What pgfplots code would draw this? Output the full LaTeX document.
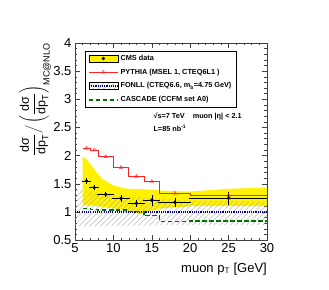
\documentclass[border=0pt]{standalone}
\usepackage{fontspec}
\setmainfont{Liberation Sans}
\usepackage{pgfplots}
\pgfplotsset{compat=1.18}
\usetikzlibrary{patterns.meta}
\definecolor{fonllblue}{RGB}{0,0,140}
\definecolor{cascgreen}{RGB}{0,115,0}
\definecolor{hatchgray}{RGB}{165,165,165}
\definecolor{pyred}{RGB}{255,35,35}
\begin{document}
\begin{tikzpicture}
\useasboundingbox (-75pt,-49pt) rectangle (254pt,240pt);
\begin{axis}[
  at={(0pt,0pt)}, anchor=south west,
  scale only axis, width=192pt, height=197pt,
  xmin=5, xmax=30, ymin=0.5, ymax=4,
  xtick={5,10,...,30}, ytick={0.5,1,...,4},
  minor x tick num=4, minor y tick num=4,
  tick align=inside, major tick length=5pt, minor tick length=2.5pt,
  axis line style={black!75, line width=0.5pt},
  every tick/.style={black!75, line width=0.4pt},
  tick label style={font=\fontsize{13}{15}\selectfont},
  /pgf/number format/assume math mode=true,
  legend style={at={(axis cs:6.3,3.86)}, anchor=north west,
    draw=black, line width=0.4pt, fill=white,
    font=\fontsize{7.3}{8.5}\selectfont\bfseries,
    inner xsep=3pt, inner ysep=2pt, row sep=3pt},
  legend cell align=left,
]
% CMS systematic band
\addplot[fill=yellow, draw=none, forget plot] coordinates {
  (6,1.98) (6.5,1.93) (7,1.85) (7.5,1.76) (8,1.67) (8.7,1.57) (10,1.47)
  (11.3,1.42) (12,1.41) (14.3,1.40) (16,1.38) (17.4,1.37) (20,1.36)
  (25,1.41) (30,1.43)
  (30,1.10) (20,1.10) (16,1.06) (14.5,1.00) (13.5,0.96) (12.5,0.98)
  (12,1.02) (10,1.06) (8,1.10) (6,1.12)
} -- cycle;
% FONLL band
\addplot[draw=none, pattern={Lines[angle=45,distance=3.8pt,line width=0.35pt]}, pattern color=hatchgray, forget plot] coordinates {
  (5,1.39) (6,1.38) (8,1.34) (10,1.30) (12,1.27) (15,1.24) (20,1.20) (25,1.19) (30,1.18)
  (30,0.77) (25,0.77) (20,0.77) (15,0.76) (10,0.75) (6,0.74) (5,0.74)
} -- cycle;
% FONLL central
\addplot[fonllblue, line width=1.3pt, dash pattern=on 1.1pt off 1.1pt, forget plot] coordinates {
  (5,1.0) (30,1.0)
};
% CASCADE
\addplot[cascgreen, line width=1.4pt, dash pattern=on 4.5pt off 2.5pt, const plot, forget plot] coordinates {
  (6,1.06) (7,1.04) (8,1.03) (10,1.03) (12,1.01) (14,0.93) (16,0.83) (20,0.84) (30,0.84)
};
% PYTHIA
\addplot[pyred, line width=0.7pt, const plot, forget plot] coordinates {
  (6,2.13) (7,2.10) (8,1.98) (10,1.79) (12,1.63) (14,1.54) (16,1.33) (20,1.29) (30,1.29)
};
\addplot[pyred, only marks, mark=triangle, mark size=2pt, forget plot] coordinates {
  (6.5,2.13) (7.5,2.10) (9,1.98) (11,1.79) (13,1.63) (15,1.54) (18,1.33) (25,1.29)
};
% CMS data
\addplot[black, only marks, mark=*, mark size=1.5pt, forget plot,
  error bars/.cd, x dir=both, x explicit, y dir=both, y explicit,
  error bar style={line width=0.45pt, black}, error mark options={black, mark size=1pt, line width=0.45pt}]
  coordinates {
  (6.5,1.55) +- (0.5,0.03)
  (7.5,1.43) +- (0.5,0.03)
  (9,1.31) +- (1,0.03)
  (11,1.24) +- (1,0.04)
  (13,1.15) +- (1,0.05)
  (15,1.21) +- (1,0.08)
  (18,1.17) +- (2,0.065)
  (25,1.24) +- (5,0.10)
};
% legend
\addlegendimage{legend image code/.code={
  \draw[black, fill=yellow, line width=0.4pt] (0pt,-3.6pt) rectangle (29pt,3.6pt);
  \fill[black] (14.5pt,0pt) circle (1.5pt);}}
\addlegendentry{CMS data}
\addlegendimage{legend image code/.code={
  \draw[pyred, line width=0.7pt] (0pt,0pt) -- (29pt,0pt);
  \draw[pyred] plot[mark=triangle, mark size=2pt] coordinates {(14.5pt,0pt)};}}
\addlegendentry{PYTHIA (MSEL 1, CTEQ6L1 )}
\addlegendimage{legend image code/.code={
  \fill[pattern={Lines[angle=45,distance=3.8pt,line width=0.35pt]}, pattern color=hatchgray] (0pt,-3.6pt) rectangle (29pt,3.6pt);
  \draw[fonllblue, line width=1.3pt, dash pattern=on 1.1pt off 1.1pt] (0pt,0pt) -- (29pt,0pt);}}
\addlegendentry{FONLL (CTEQ6.6, m$_{\mbox{\tiny b}}$=4.75 GeV)\hspace{12pt}}
\addlegendimage{legend image code/.code={
  \draw[cascgreen, line width=1.4pt, dash pattern=on 4.5pt off 2.5pt] (0pt,0pt) -- (29pt,0pt);}}
\addlegendentry{CASCADE (CCFM set A0)}
\node[anchor=west, font=\fontsize{7.3}{8.5}\selectfont\bfseries, inner sep=0pt] at (axis cs:15.2,2.70) {√s=7 TeV\hspace{8pt}muon |η| < 2.1};
\node[anchor=west, font=\fontsize{7.3}{8.5}\selectfont\bfseries, inner sep=0pt] at (axis cs:15.2,2.48) {L=85 nb$^{\mbox{\tiny -1}}$};
\end{axis}
\node[rotate=90, anchor=south east, inner sep=0pt, font=\fontsize{12.5}{14}\selectfont] at (-24pt,197pt)
  {$\displaystyle\frac{\mbox{dσ}}{\mbox{dp}_{\mbox{\small T}}}\Big/\left(\frac{\mbox{dσ}}{\mbox{dp}_{\mbox{\small T}}}\right)_{\mbox{\small MC@NLO}}$};
\node[anchor=base east, inner sep=0pt, font=\fontsize{13}{15}\selectfont] at (192pt,-32pt) {muon p$_{\mbox{\footnotesize T}}$ [GeV]};
\end{tikzpicture}
\end{document}
